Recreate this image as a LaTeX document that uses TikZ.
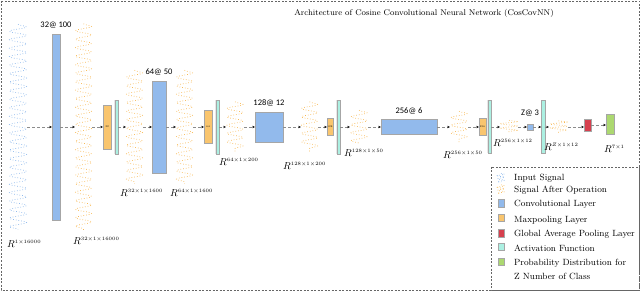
\documentclass[tikz,border=0pt]{standalone}
\usepackage{amsmath,amssymb}
\usepackage{fontspec}
\newfontfamily\layerfont{Carlito}
\usepackage{tikz}
\usetikzlibrary{shapes,arrows,arrows.meta,positioning,decorations.pathmorphing}
\definecolor{convblue}{RGB}{146,186,236}
\definecolor{poolorange}{RGB}{249,197,110}
\definecolor{actcyan}{RGB}{172,240,226}
\definecolor{gapred}{RGB}{214,64,78}
\definecolor{probgreen}{RGB}{172,216,112}
\definecolor{wavblue}{RGB}{135,180,235}
\definecolor{wavorange}{RGB}{247,185,85}
\tikzstyle{layerbox} = [rectangle, inner sep=0pt, draw=black!35, line width=0.3pt, path picture={\draw[black!75, line width=1.4pt] (path picture bounding box.south west) -- (path picture bounding box.north west);}]
\tikzstyle{conv} = [layerbox, fill=convblue]
\tikzstyle{pool} = [layerbox, fill=poolorange]
\tikzstyle{act} = [layerbox, fill=actcyan]
\tikzstyle{gappool} = [layerbox, fill=gapred]
\tikzstyle{prob} = [layerbox, fill=probgreen]
\tikzstyle{sigbox} = [rectangle, inner sep=0pt]
\tikzstyle{inwave} = [wavblue, dotted, line width=0.7pt, decorate, decoration={snake, amplitude=8pt, segment length=8.5pt}]
\tikzstyle{outwave} = [wavorange, dotted, line width=0.7pt, decorate, decoration={snake, amplitude=8pt, segment length=8.5pt}]
\tikzstyle{arrow} = [densely dashed, black!45, line width=0.4pt, -{Stealth[black, length=2.6pt, width=2.4pt]}]
\tikzstyle{dimlab} = [anchor=west, inner sep=0pt, font=\fontsize{10}{12}\selectfont]
\tikzstyle{layerlab} = [inner sep=0pt, font=\layerfont\fontsize{8.5}{10}\selectfont]
\tikzstyle{poollab} = [inner sep=0pt, font=\fontsize{2.5}{3}\selectfont]
\tikzstyle{legtext} = [anchor=west, inner sep=0pt, font=\fontsize{9}{14}\selectfont, align=left]
\tikzstyle{legicon} = [minimum width=6, minimum height=7.5]

\begin{document}
\begin{tikzpicture}[x=1pt, y=-1pt]
\useasboundingbox (0,0) rectangle (640,291);
\draw [black!60, dash pattern=on 2pt off 1.5pt, line width=0.4pt] (1,1) rectangle (639,290);
\node (title) [font=\fontsize{8.3}{10}\selectfont] at (424,13) {Architecture of Cosine Convolutional Neural Network (CosCovNN)};

% signals and layers along the axis
\node (sa) [sigbox, minimum width=18, minimum height=205] at (18,127) {};
\node (conva) [conv, minimum width=8, minimum height=186] at (56,127) {};
\node (sb) [sigbox, minimum width=17, minimum height=206] at (83.5,127) {};
\node (mpa) [pool, minimum width=8, minimum height=44] at (107,127) {};
\node (acta) [act, minimum width=3.5, minimum height=54] at (116.5,127) {};
\node (sc) [sigbox, minimum width=17, minimum height=113] at (134.5,127) {};
\node (convb) [conv, minimum width=14, minimum height=92] at (159,127) {};
\node (sd) [sigbox, minimum width=17, minimum height=113] at (184.5,127) {};
\node (mpb) [pool, minimum width=8, minimum height=33] at (208,127) {};
\node (actb) [act, minimum width=3.5, minimum height=54] at (217.5,127) {};
\node (se) [sigbox, minimum width=18, minimum height=50] at (235,127) {};
\node (convc) [conv, minimum width=28, minimum height=30] at (269,127) {};
\node (sf) [sigbox, minimum width=17, minimum height=50] at (309.5,127) {};
\node (mpc) [pool, minimum width=6, minimum height=17] at (330,127) {};
\node (actc) [act, minimum width=3.5, minimum height=54] at (338.5,127) {};
\node (sg) [sigbox, minimum width=18, minimum height=33] at (359,127) {};
\node (convd) [conv, minimum width=56, minimum height=15] at (409,127) {};
\node (sh) [sigbox, minimum width=18, minimum height=31] at (459,127) {};
\node (mpd) [pool, minimum width=7, minimum height=17] at (482.5,127) {};
\node (actd) [act, minimum width=3.5, minimum height=53] at (489.5,127) {};
\node (si) [sigbox, minimum width=18, minimum height=13] at (509,127) {};
\node (conve) [conv, minimum width=6, minimum height=6] at (530,127) {};
\node (acte) [act, minimum width=3.5, minimum height=53] at (543,127) {};
\node (sj) [sigbox, minimum width=19, minimum height=12] at (558.5,127) {};
\node (gap) [gappool, minimum width=7, minimum height=12] at (587.5,125) {};
\node (out) [prob, minimum width=8, minimum height=20] at (610,124) {};

\node [poollab] at (mpa) {32};
\node [poollab] at (mpb) {64};
\node [poollab] at (mpc) {128};
\node [poollab] at (mpd) {256};

\draw [inwave, decoration={amplitude=8.5pt}] (sa.north) -- (sa.south);
\draw [outwave] (sb.north) -- (sb.south);
\draw [outwave] (sc.north) -- (sc.south);
\draw [outwave] (sd.north) -- (sd.south);
\draw [outwave, decoration={segment length=8.3pt}] (se.north) -- (se.south);
\draw [outwave, decoration={segment length=8.3pt}] (sf.north) -- (sf.south);
\draw [outwave, decoration={segment length=8pt}] (sg.north) -- (sg.south);
\draw [outwave, decoration={segment length=7.7pt}] (sh.north) -- (sh.south);
\draw [outwave, decoration={segment length=4.3pt}] (si.north) -- (si.south);
\draw [outwave, decoration={amplitude=8.5pt, segment length=4pt}] (sj.north) -- (sj.south);

% kernel labels
\node (labconva) [layerlab, above=5pt of conva] {32@ 100};
\node (labconvb) [layerlab, above=5pt of convb] {64@ 50};
\node (labconvc) [layerlab, above=5pt of convc] {128@ 12};
\node (labconvd) [layerlab, above=5pt of convd] {256@ 6};
\node (labconve) [layerlab, above=7pt of conve] {Z@ 3};

% shapes of the signals
\node (dima) [dimlab] at (7,244) {$R^{\scriptscriptstyle 1\times16000}$};
\node (dimb) [dimlab] at (73,241) {$R^{\scriptscriptstyle 32\times1\times16000}$};
\node (dimc) [dimlab] at (120,193) {$R^{\scriptscriptstyle 32\times1\times1600}$};
\node (dimd) [dimlab] at (170,193) {$R^{\scriptscriptstyle 64\times1\times1600}$};
\node (dime) [dimlab] at (219,162) {$R^{\scriptscriptstyle 64\times1\times200}$};
\node (dimf) [dimlab] at (283,166) {$R^{\scriptscriptstyle 128\times1\times200}$};
\node (dimg) [dimlab] at (344,153) {$R^{\scriptscriptstyle 128\times1\times50}$};
\node (dimh) [dimlab] at (443,155) {$R^{\scriptscriptstyle 256\times1\times50}$};
\node (dimi) [dimlab] at (493,143) {$R^{\scriptscriptstyle 256\times1\times12}$};
\node (dimj) [dimlab] at (544,147) {$R^{\scriptscriptstyle Z\times1\times12}$};
\node (dimk) [dimlab] at (604,149) {$R^{\scriptscriptstyle 7\times1}$};

\draw [arrow] (sa) -- (conva);
\draw [arrow] (conva) -- (sb);
\draw [arrow] (sb) -- (mpa);
\draw [arrow] (acta) -- (sc);
\draw [arrow] (sc) -- (convb);
\draw [arrow] (convb) -- (sd);
\draw [arrow] (sd) -- (mpb);
\draw [arrow] (actb) -- (se);
\draw [arrow] (se) -- (convc);
\draw [arrow] (convc) -- (sf);
\draw [arrow] (sf) -- (mpc);
\draw [arrow] (actc) -- (sg);
\draw [arrow] (sg) -- (convd);
\draw [arrow] (convd) -- (sh);
\draw [arrow] (sh) -- (mpd);
\draw [arrow] (actd) -- (si);
\draw [arrow] (si) -- (conve);
\draw [arrow] (conve) -- (acte);
\draw [arrow] (acte) -- (sj);
\draw [arrow] (sj) -- (gap.west |- sj);
\draw [arrow] (gap.east) -- (out.west |- gap.east);

% legend
\draw [black!60, dash pattern=on 2pt off 1.5pt, line width=0.4pt] (491,167) rectangle (639,290);
\node (legin) [sigbox, minimum width=8, minimum height=9] at (501,178) {};
\draw [inwave, decoration={amplitude=3.5pt, segment length=3pt}] (legin.north) -- (legin.south);
\node (legout) [sigbox, minimum width=8, minimum height=9] at (501,189.5) {};
\draw [outwave, decoration={amplitude=3.5pt, segment length=3pt}] (legout.north) -- (legout.south);
\node (legconv) [conv, legicon] at (501.5,203) {};
\node (legpool) [pool, legicon] at (501.5,217.5) {};
\node (leggap) [gappool, legicon] at (501.5,233) {};
\node (legact) [act, legicon] at (501.5,246.5) {};
\node (legprob) [prob, legicon] at (501.5,261.5) {};
\node (txtin) [legtext] at (514,178) {Input Signal};
\node (txtout) [legtext] at (514,190) {Signal After Operation};
\node (txtconv) [legtext] at (514,204) {Convolutional Layer};
\node (txtpool) [legtext] at (514,220) {Maxpooling Layer};
\node (txtgap) [legtext] at (514,234) {Global Average Pooling Layer};
\node (txtact) [legtext] at (514,248) {Activation Function};
\node (txtprob) [legtext] at (514,269) {Probability Distribution for\\Z Number of Class};
\end{tikzpicture}
\end{document}
